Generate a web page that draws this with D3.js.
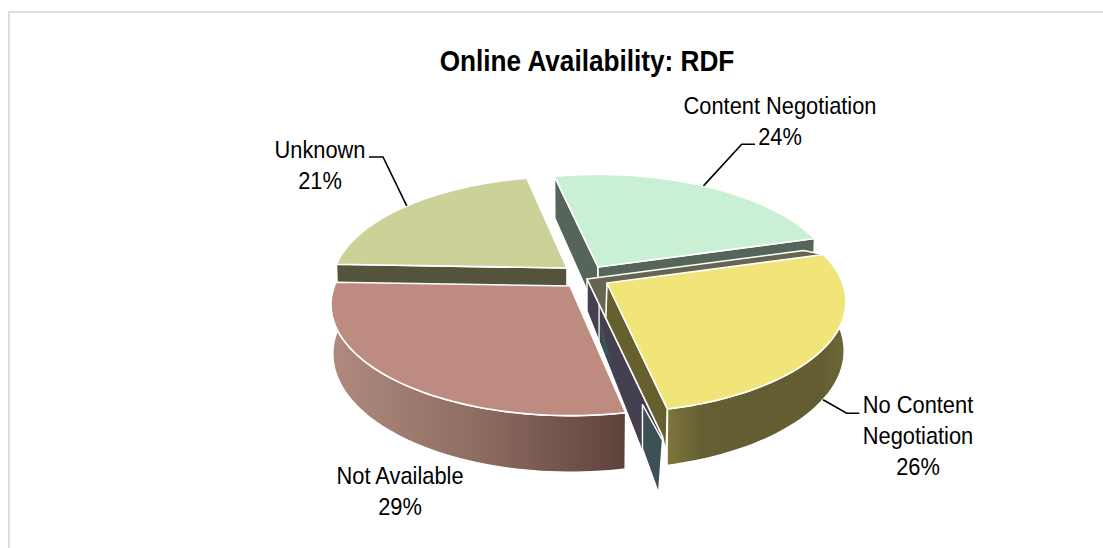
<!DOCTYPE html>
<html><head><meta charset="utf-8">
<style>html,body{margin:0;padding:0;background:#fff}svg{display:block}text{font-family:"Liberation Sans",Arial,sans-serif;fill:#000}</style>
<script src="https://cdn.jsdelivr.net/npm/d3@7"></script></head><body>
<script>
const titleText = "Online Availability: RDF";
const categories = ["Content Negotiation","No Content Negotiation","Not Available","Unknown"];
const values = [24,26,29,21];
const labelLines = [["Content Negotiation","24%"],["No Content","Negotiation","26%"],["Not Available","29%"],["Unknown","21%"]];
const topColors = ["#c9efd4","#f1e57a","#bd8b7f","#cbd197"];
const radialWallColors = ["#55655a","#66602f","#5f443e","#54543a"];
// layout
const W=1103,H=548;
const centre=[588,276];
const explodeX=[10,19,-18,-21], explodeY=[-9,7,10,-8];
const trimStart=[0,0,1.0,0], trimEnd=[0,0,0,-0.8], radiusScale=[1,1,1,0.985];
const RX=235.6, RY=108, K=0.167, M=0.007, DEPTH=48.5;
const START=-12.4;
const svg=d3.select("body").append("svg").attr("width",W).attr("height",H);
const defs=svg.append("defs");
function grad(id,stops){const g=defs.append("linearGradient").attr("id",id);stops.forEach(s=>g.append("stop").attr("offset",s[0]).attr("stop-color",s[1]));}
grad("gBrown",[[0,"#b08a7e"],[0.5,"#8e6c61"],[1,"#5d423c"]]);
grad("gYellow",[[0,"#7f763b"],[0.2,"#655e32"],[0.85,"#645d31"],[1,"#6d6637"]]);
svg.append("path").attr("d",d3.line()([[9,H],[9,12],[W,12]])).attr("fill","none").attr("stroke","#dedede").attr("stroke-width",2);

const rad=Math.PI/180;
const pie=d3.pie().sort(null).startAngle(START*rad).endAngle((START+360)*rad);
const arcs=pie(values).map((a,i)=>({...a,startAngle:a.startAngle+trimStart[i]*rad,endAngle:a.endAngle-trimEnd[i]*rad}));
const apex=i=>[centre[0]+explodeX[i],centre[1]+explodeY[i]];
function at(A,t,r,drop=0){const u=Math.sin(t),v=Math.cos(t),d=1+K*r*v;return [A[0]+RX*r*u/d,A[1]-RY*r*v/d+drop];}
function low(A,t,r=1){const u=Math.sin(t),v=Math.cos(t),d=1+K*r*v+M;return [A[0]+RX*r*u/d,A[1]+(-RY*r*v+DEPTH)/d];}
const steps=(a,b)=>d3.range(0,61).map(i=>a+(b-a)*i/60);
const poly=d3.line().curve(d3.curveLinearClosed);
function draw(pts,fill,sw=1.6){return svg.append("path").attr("d",poly(pts)).attr("fill",fill).attr("stroke","#fff").attr("stroke-width",sw).attr("stroke-linejoin","round");}
function topFace(i){const A=apex(i),a=arcs[i];return [A,...steps(a.startAngle,a.endAngle).map(t=>at(A,t,radiusScale[i]))];}
function radial(i,t){const A=apex(i),r=radiusScale[i];return [A,at(A,t,r),low(A,t,r),[A[0],A[1]+DEPTH/(1+M)]];}
function outer(i){const A=apex(i),a=arcs[i],s=steps(a.startAngle,a.endAngle);return [...s.map(t=>at(A,t,1)),...s.slice().reverse().map(t=>low(A,t))];}

const [mint,yel,brown,unk]=[0,1,2,3];
const tM=arcs[mint].endAngle,tY=arcs[yel].endAngle;
// Unknown
draw(radial(unk,arcs[unk].startAngle),radialWallColors[3]);
draw(topFace(unk),topColors[3]);
// Content Negotiation walls
draw(radial(mint,arcs[mint].startAngle),radialWallColors[0]);
draw(radial(mint,tM),radialWallColors[0]);
draw(topFace(mint),topColors[0]);
// inner walls seen through the gap
const G=[587,279], Y=apex(yel);
draw([G,at(G,tY,1.2),at(G,tY,0.93,57),[G[0],G[1]+32]],"#454050",1.4);
draw([at(G,tY,0.93,10),at(G,tY,1.2,4),at(G,tY,1.15,65),at(G,tY,0.93,54)],"#3d5055",1.4);
draw([at(G,tY,0.23,13),at(G,tY,0.47,33),at(G,tY,0.3,36)],"#38565a",0).attr("stroke","none");
svg.append("path").attr("d",d3.line()([at(G,tY,0.23),at(G,tY,0.23,38)])).attr("stroke","#fff").attr("stroke-width",1.3).attr("fill","none");
draw([G,at(G,tM,1),at(Y,tM,1),at(G,tY,0.35)],"#666650");
// Not Available
draw(outer(brown),"url(#gBrown)");
draw(topFace(brown),topColors[2]);
// No Content Negotiation
draw([Y,at(G,tY,0.35),at(G,tY,1.2),at(Y,tY,0.98,47),at(Y,tY,1)],radialWallColors[1]);
draw(outer(yel),"url(#gYellow)");
draw(topFace(yel),topColors[1]);

// leaders
const mids=arcs.map(a=>(a.startAngle+a.endAngle)/2);
const leaderStart=[at(apex(0),mids[0],1),low(apex(1),mids[1]+2*rad),null,at(apex(3),mids[3],radiusScale[3])];
const leaderElbow=[[[741.7,144.3],[755,144.3]],[[846.7,413.3],[859.3,413.3]],null,[[383,157],[369,157]]];
leaderStart.forEach((s,i)=>{if(!s)return;svg.append("path").attr("d",d3.line()([s,...leaderElbow[i]])).attr("fill","none").attr("stroke","#000").attr("stroke-width",1.6);});

// labels
const labelX=[780,918,400,320], labelY=[114,413,484,158], LH=31, SX=0.91;
labelLines.forEach((ls,i)=>ls.forEach((t,j)=>{
 svg.append("text").attr("transform",`translate(${labelX[i]},${labelY[i]+j*LH}) scale(${SX},1)`).attr("text-anchor","middle").attr("font-size",24).text(t);
}));
svg.append("text").attr("transform","translate(587,71) scale(0.903,1)").attr("text-anchor","middle").attr("font-size",29).attr("font-weight","bold").text(titleText);
</script></body></html>
